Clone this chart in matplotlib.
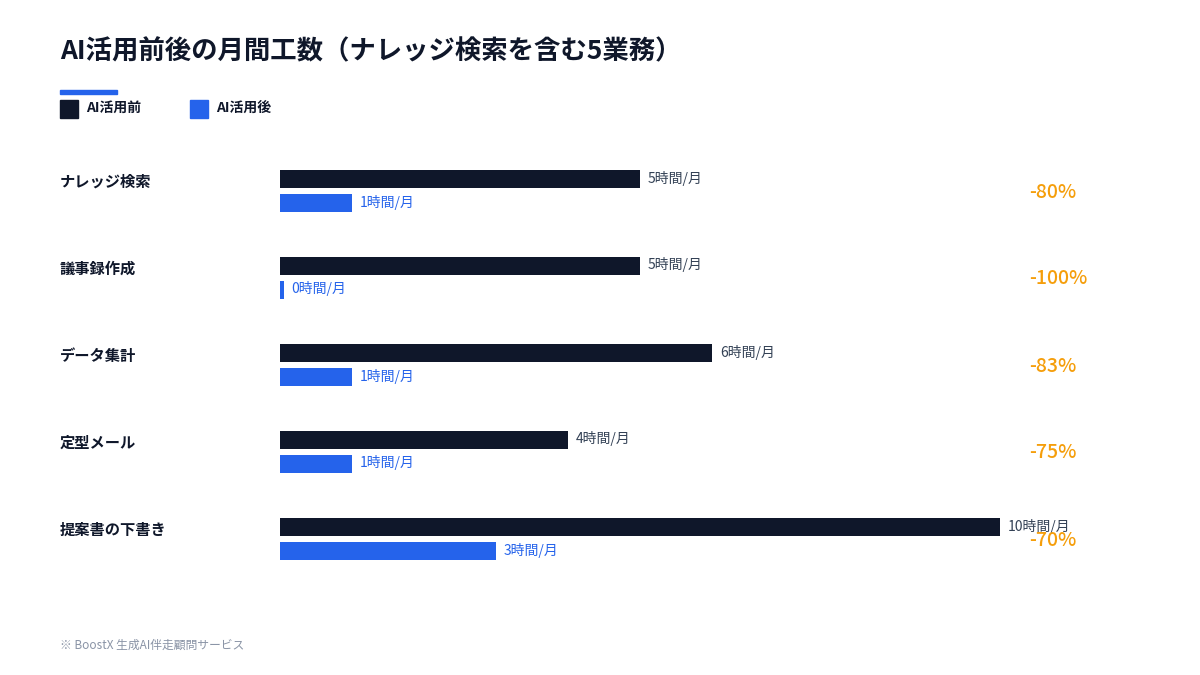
import matplotlib.pyplot as plt

plt.rcParams['font.family'] = ['Noto Sans CJK JP', 'DejaVu Sans']

categories = ['ナレッジ検索', '議事録作成', 'データ集計', '定型メール', '提案書の下書き']
before = [5, 5, 6, 4, 10]
after = [1, 0, 1, 1, 3]
reduction = ['-80%', '-100%', '-83%', '-75%', '-70%']

DARK = '#0f172a'
BLUE = '#2563eb'
ORANGE = '#f59e0b'
W, H = 1200, 675

fig = plt.figure(figsize=(12, 6.75), dpi=100)
fig.patch.set_facecolor('white')

def fy(y):
    return 1 - y / H

# bar axes: x 0..10 -> px 280..1000, y in px 140..600
ax = fig.add_axes([280 / W, fy(600), 720 / W, 460 / H])
ax.set_xlim(0, 10)
ax.set_ylim(600, 140)
ax.axis('off')

for i, cat in enumerate(categories):
    y0 = 179 + 87 * i
    y1 = 203 + 87 * i
    ax.barh(y0, before[i], height=18, color=DARK)
    ax.barh(y1, max(after[i], 0.05), height=18, color=BLUE)
    ax.text(before[i] + 0.11, y0 - 1, f'{before[i]}時間/月', fontsize=10, color='#334155', va='center', ha='left')
    ax.text(max(after[i], 0.05) + 0.11, y1 - 1, f'{after[i]}時間/月', fontsize=10, color=BLUE, va='center', ha='left')
    fig.text(60 / W, fy(y0 + 3), cat, fontsize=11, fontweight='bold', color=DARK, va='center')
    fig.text(1029 / W, fy(y0 + 13), reduction[i], fontsize=14, fontweight='medium', color=ORANGE, va='center')

fig.text(60 / W, fy(52), 'AI活用前後の月間工数（ナレッジ検索を含む5業務）', fontsize=19, fontweight='bold', color=DARK, va='center')
fig.patches.append(plt.Rectangle((60 / W, fy(94)), 57 / W, 4 / H, transform=fig.transFigure, color=BLUE))

fig.patches.append(plt.Rectangle((60 / W, fy(118)), 18 / W, 18 / H, transform=fig.transFigure, color=DARK))
fig.text(86 / W, fy(108), 'AI活用前', fontsize=10, fontweight='bold', color=DARK, va='center')
fig.patches.append(plt.Rectangle((190 / W, fy(118)), 18 / W, 18 / H, transform=fig.transFigure, color=BLUE))
fig.text(216 / W, fy(108), 'AI活用後', fontsize=10, fontweight='bold', color=DARK, va='center')

fig.text(60 / W, fy(645), '※ BoostX 生成AI伴走顧問サービス', fontsize=8.5, color='#8a94a6', va='center')

fig.savefig('out.png', dpi=100)
